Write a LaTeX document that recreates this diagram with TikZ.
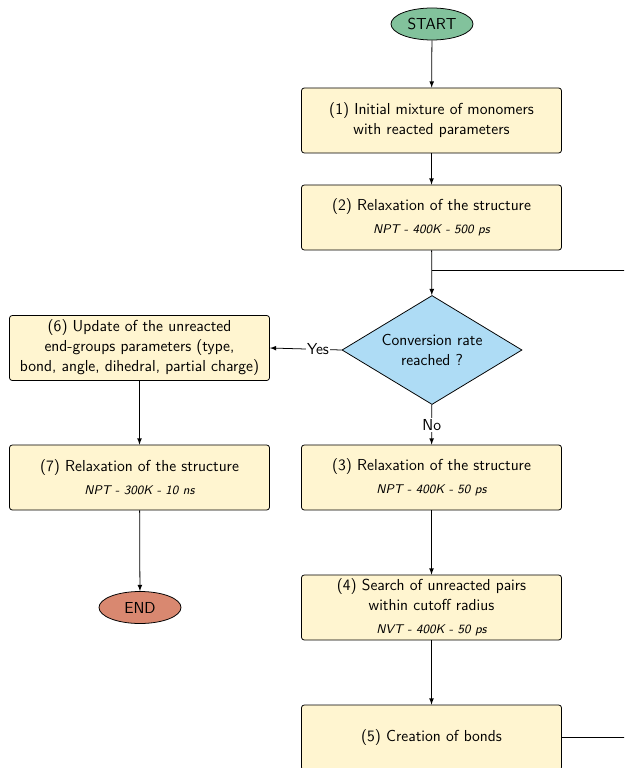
\documentclass[tikz,border=0pt]{standalone}
\usepackage{xcolor}
\usepackage{tikz}
\usetikzlibrary{shapes.geometric}
\renewcommand{\familydefault}{\sfdefault}

\definecolor{boxfill}{HTML}{FFF5D0}
\definecolor{startfill}{HTML}{82C29C}
\definecolor{endfill}{HTML}{D98870}
\definecolor{testfill}{HTML}{AEDCF5}

\tikzset{
  every node/.style={font=\fontsize{11.3}{14.2}\selectfont},
  stepbox/.style={draw, rounded corners=2pt, fill=boxfill, align=center,
    minimum width=6.5cm, minimum height=1.625cm, inner sep=2pt},
  term/.style={draw, ellipse, minimum width=2.05cm, minimum height=0.8cm, inner sep=0pt},
  test/.style={draw, diamond, aspect=1.65, fill=testfill, align=center,
    minimum width=4.5cm, minimum height=2.725cm, inner sep=0pt},
  flow/.style={->, >=latex}
}
\newcommand{\cond}[1]{{\fontsize{9}{11}\selectfont\itshape #1}}

\begin{document}
\begin{tikzpicture}[x=0.025cm, y=-0.025cm, line width=0.55pt]
  \clip (0,0) rectangle (624,768);
  \node[term, fill=startfill] (S) at (432,24) {START};
  \node[stepbox] (P1) at (431.5,120.5) {(1) Initial mixture of monomers\\with reacted parameters};
  \node[stepbox] (P2) at (431.5,217.5) {(2) Relaxation of the structure\\[2pt]\cond{NPT - 400K - 500 ps}};
  \node[test] (D) at (432,350) {Conversion rate\\reached ?};
  \node[stepbox] (P6) at (139.5,348) {(6) Update of the unreacted\\end-groups parameters (type,\\bond, angle, dihedral, partial charge)};
  \node[stepbox] (P7) at (139.5,477.5) {(7) Relaxation of the structure\\[2pt]\cond{NPT - 300K - 10 ns}};
  \node[term, fill=endfill] (E) at (140,607.5) {END};
  \node[stepbox] (P3) at (431.5,477.5) {(3) Relaxation of the structure\\[2pt]\cond{NPT - 400K - 50 ps}};
  \node[stepbox] (P4) at (431.5,607.5) {(4) Search of unreacted pairs\\within cutoff radius\\[2pt]\cond{NVT - 400K - 50 ps}};
  \node[stepbox] (P5) at (431.5,737.5) {(5) Creation of bonds};
  \coordinate (M) at (432,270);
    % main chain
  \draw[flow] (S) -- (P1);
  \draw[flow] (P1) -- (P2);
  \draw[flow] (P2) -- (D);
  \draw[flow] (D) -- node[fill=white, inner sep=1pt] {No} (P3);
  \draw[flow] (P3) -- (P4);
  \draw[flow] (P4) -- (P5);
    % loop back and exit
  \draw (P5.east) -- (680,737.5) |- (M);
  \draw[flow] (D.west) -- node[pos=0.33, fill=white, inner sep=1pt] {Yes} (P6.east);
  \draw[flow] (P6) -- (P7);
  \draw[flow] (P7) -- (E);
\end{tikzpicture}
\end{document}
